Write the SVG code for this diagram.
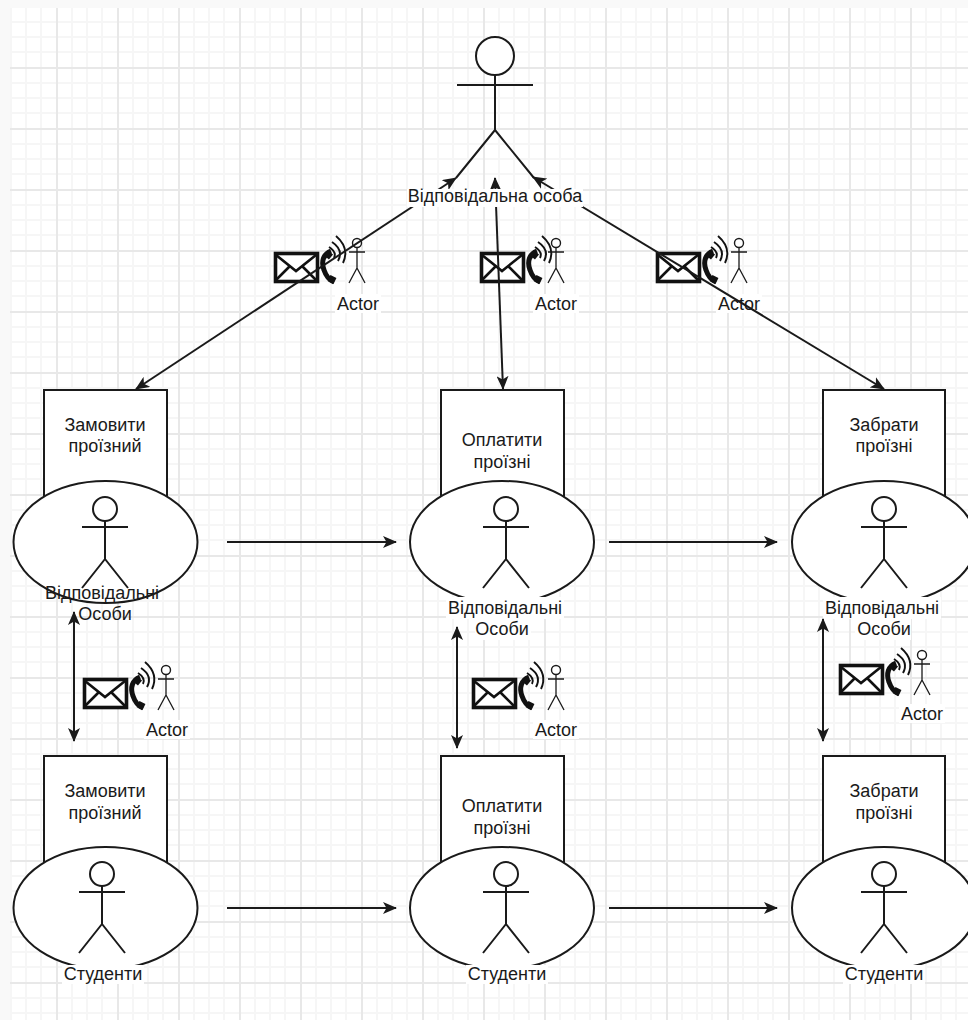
<svg xmlns="http://www.w3.org/2000/svg" xmlns:xlink="http://www.w3.org/1999/xlink" width="968" height="1020" viewBox="0 0 968 1020">
<style>
text{font-family:"Liberation Sans",Arial,sans-serif;font-size:18px;fill:#1a1a1a;text-anchor:middle}
.s{fill:none;stroke:#1a1a1a;stroke-width:2}
.b{fill:#fff;stroke:#1a1a1a;stroke-width:2}
.c{fill:none;stroke:#1a1a1a;stroke-width:2}
.bg{fill:#fff}
</style>
<defs>
<pattern id="grid" x="56" y="67" width="61" height="61" patternUnits="userSpaceOnUse">
<path d="M16 0V61M31 0V61M46 0V61M0 16H61M0 31H61M0 46H61" fill="none" stroke="#f6f6f6" stroke-width="2"/>
<path d="M1 0V61M0 1H61" fill="none" stroke="#e8e8e8" stroke-width="2"/>
</pattern>
<marker id="a" viewBox="0 0 14 12" refX="13" refY="6" markerWidth="14" markerHeight="12" markerUnits="userSpaceOnUse" orient="auto-start-reverse"><path d="M0 0L14 6L0 12L3.500 6Z" fill="#1a1a1a"/></marker>
<g id="comm">
<rect x="1.500" y="1.500" width="42" height="28" fill="#fff" stroke="#111" stroke-width="3.600"/>
<path d="M2 3L22 19L42 3M2 28L16 14M42 28L28 14" fill="none" stroke="#111" stroke-width="2.600"/>
<path d="M57 -1C49 2 47 10 50 18C52 24 55 28 60 30" fill="none" stroke="#111" stroke-width="5"/>
<path d="M52 1L57 5M55 26L61 29" fill="none" stroke="#111" stroke-width="6.500"/>
<path d="M55 -5Q63 0 60 6M58 -10Q70 -2 64 9M62 -16Q76 -4 69 11" fill="none" stroke="#111" stroke-width="1.900"/>
</g>
<g id="smallactor">
<circle cx="0" cy="6" r="4.500" class="b" style="stroke-width:1.400"/>
<path d="M0 10.500V31M-8 15H8M0 31L-8 46M0 31L8 46" fill="none" stroke="#1a1a1a" stroke-width="1.300"/>
</g>
<g id="actor">
<circle cx="0" cy="0" r="12" class="b"/>
<path d="M0 12V50M-23 18H23M0 50L-23 79M0 50L23 79" class="s"/>
</g>
</defs>
<rect width="968" height="1020" fill="#f9f9f9"/>
<rect x="10" y="8" width="958" height="1012" fill="#fff"/>
<rect x="10" y="8" width="958" height="1012" fill="url(#grid)"/>

<g id="resp-top">
<circle cx="495" cy="56" r="19" class="b"/>
<path d="M495 75V130M457 85H533M495 130L456 178M495 130L534 178" class="s"/>
</g>

<g id="n1">
<rect x="44" y="390" width="123" height="110" class="b"/>
<text x="105" y="431">Замовити</text><text x="105" y="452">проїзний</text>
<ellipse cx="105.500" cy="542" rx="92" ry="61" class="b"/>
<use xlink:href="#actor" href="#actor" x="105" y="509"/>
<text x="102" y="599">Відповідальні</text><text x="105" y="620">Особи</text>
</g>
<g id="n2">
<rect x="441" y="390" width="123" height="110" class="b"/>
<text x="502" y="446">Оплатити</text><text x="502" y="468">проїзні</text>
<ellipse cx="502" cy="542" rx="92" ry="61" class="b"/>
<use xlink:href="#actor" href="#actor" x="506" y="509"/>
<rect x="446" y="597" width="118" height="22" class="bg"/><rect x="475" y="619" width="56" height="21" class="bg"/>
<text x="505" y="614">Відповідальні</text><text x="502" y="635">Особи</text>
</g>
<g id="n3">
<rect x="823" y="390" width="122" height="110" class="b"/>
<text x="884" y="431">Забрати</text><text x="884" y="452">проїзні</text>
<ellipse cx="884" cy="542" rx="92" ry="61" class="b"/>
<use xlink:href="#actor" href="#actor" x="884" y="509"/>
<rect x="823" y="597" width="118" height="22" class="bg"/><rect x="855" y="619" width="56" height="21" class="bg"/>
<text x="882" y="614">Відповідальні</text><text x="884" y="635">Особи</text>
</g>
<g id="n4">
<rect x="44" y="756" width="123" height="110" class="b"/>
<text x="105" y="797">Замовити</text><text x="105" y="819">проїзний</text>
<ellipse cx="105.500" cy="908" rx="92" ry="61" class="b"/>
<use xlink:href="#actor" href="#actor" x="102" y="874"/>
<rect x="62" y="965" width="82" height="19" class="bg"/>
<text x="103" y="980">Студенти</text>
</g>
<g id="n5">
<rect x="441" y="756" width="123" height="110" class="b"/>
<text x="502" y="812">Оплатити</text><text x="502" y="834">проїзні</text>
<ellipse cx="502" cy="908" rx="92" ry="61" class="b"/>
<use xlink:href="#actor" href="#actor" x="506" y="874"/>
<rect x="466" y="965" width="82" height="19" class="bg"/>
<text x="507" y="980">Студенти</text>
</g>
<g id="n6">
<rect x="823" y="756" width="122" height="110" class="b"/>
<text x="884" y="797">Забрати</text><text x="884" y="819">проїзні</text>
<ellipse cx="884" cy="908" rx="92" ry="61" class="b"/>
<use xlink:href="#actor" href="#actor" x="884" y="874"/>
<rect x="843" y="965" width="82" height="19" class="bg"/>
<text x="884" y="980">Студенти</text>
</g>

<g id="i1"><use xlink:href="#comm" href="#comm" x="274" y="252"/><use xlink:href="#smallactor" href="#smallactor" x="357" y="237"/><rect x="335" y="294" width="46" height="19" class="bg"/><text x="358" y="310">Actor</text></g>
<g id="i2"><use xlink:href="#comm" href="#comm" x="480" y="252"/><use xlink:href="#smallactor" href="#smallactor" x="556" y="237"/><rect x="533" y="294" width="46" height="19" class="bg"/><text x="556" y="310">Actor</text></g>
<g id="i3"><use xlink:href="#comm" href="#comm" x="656" y="252"/><use xlink:href="#smallactor" href="#smallactor" x="739" y="237"/><rect x="716" y="294" width="46" height="19" class="bg"/><text x="739" y="310">Actor</text></g>
<g id="i4"><use xlink:href="#comm" href="#comm" x="83" y="678"/><use xlink:href="#smallactor" href="#smallactor" x="166" y="664"/><rect x="144" y="720" width="46" height="19" class="bg"/><text x="167" y="736">Actor</text></g>
<g id="i5"><use xlink:href="#comm" href="#comm" x="472" y="678"/><use xlink:href="#smallactor" href="#smallactor" x="556" y="664"/><rect x="533" y="720" width="46" height="19" class="bg"/><text x="556" y="736">Actor</text></g>
<g id="i6"><use xlink:href="#comm" href="#comm" x="839" y="664"/><use xlink:href="#smallactor" href="#smallactor" x="922" y="649"/><rect x="899" y="704" width="46" height="19" class="bg"/><text x="922" y="720">Actor</text></g>

<g id="connectors">
<path class="c" d="M136 389L456 178" marker-start="url(#a)" marker-end="url(#a)"/>
<path class="c" d="M495 178L503 389" marker-start="url(#a)" marker-end="url(#a)"/>
<path class="c" d="M533 177L884 389" marker-start="url(#a)" marker-end="url(#a)"/>
<path class="c" d="M74 612V741" marker-start="url(#a)" marker-end="url(#a)"/>
<path class="c" d="M457 627V748" marker-start="url(#a)" marker-end="url(#a)"/>
<path class="c" d="M823 619V741" marker-start="url(#a)" marker-end="url(#a)"/>
<path class="c" d="M227 542H396" marker-end="url(#a)"/>
<path class="c" d="M609 542H777" marker-end="url(#a)"/>
<path class="c" d="M227 908H396" marker-end="url(#a)"/>
<path class="c" d="M609 908H777" marker-end="url(#a)"/>
</g>
<g id="resp-top-label">
<rect x="407" y="189" width="176" height="18" class="bg"/>
<text x="495" y="202">Відповідальна особа</text>
</g>
</svg>
